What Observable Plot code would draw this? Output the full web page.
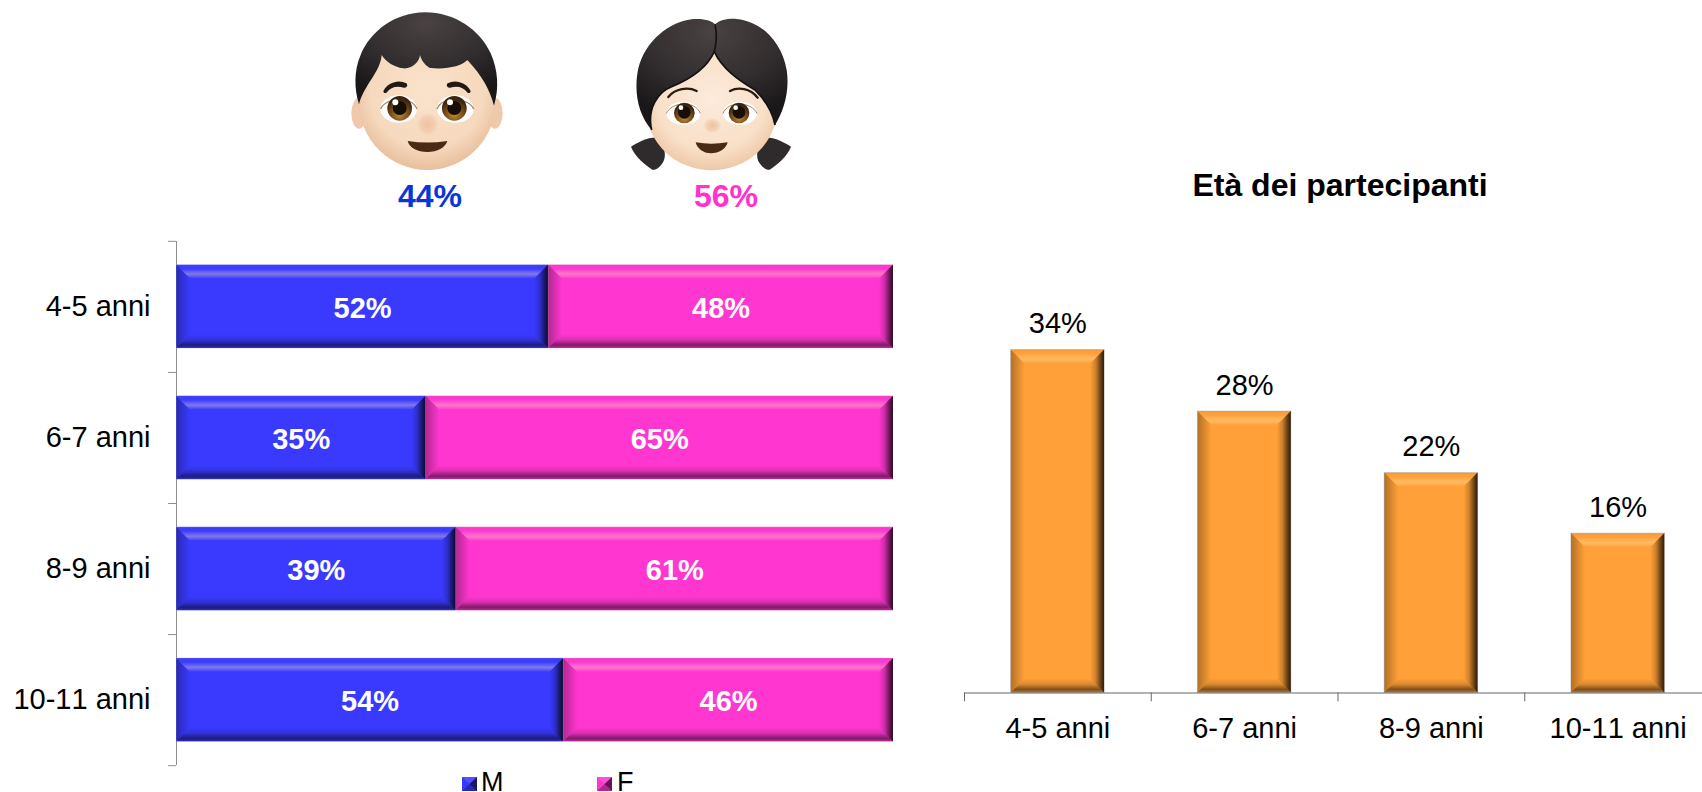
<!DOCTYPE html>
<html><head><meta charset="utf-8">
<script src="https://cdn.jsdelivr.net/npm/d3@7"></script>
<script src="https://cdn.jsdelivr.net/npm/@observablehq/plot@0.6"></script>
<style>
html,body{margin:0;padding:0;background:#fff;overflow:hidden}
#stage{position:relative;width:1702px;height:792px;overflow:hidden;font-family:"Liberation Sans",Arial,sans-serif;color:#000;font-kerning:none}
#stage>*{position:absolute}
.t{line-height:1;white-space:nowrap}
.face{filter:blur(.45px)}
</style></head><body>
<div id="stage">
<svg width="0" height="0" style="left:0;top:0">
  <defs>
    <linearGradient id="bvTop" x1="0" y1="0" x2="0" y2="1">
      <stop offset="0" stop-color="#000" stop-opacity=".08"/><stop offset=".3" stop-color="#fff" stop-opacity="0"/><stop offset=".68" stop-color="#ffe9a0" stop-opacity=".36"/><stop offset="1" stop-color="#fff" stop-opacity="0"/>
    </linearGradient>
    <linearGradient id="bvBottom" x1="0" y1="1" x2="0" y2="0">
      <stop offset="0" stop-color="#000" stop-opacity=".28"/><stop offset=".22" stop-color="#000" stop-opacity=".5"/><stop offset=".6" stop-color="#000" stop-opacity=".14"/><stop offset="1" stop-color="#000" stop-opacity="0"/>
    </linearGradient>
    <linearGradient id="bvRight" x1="1" y1="0" x2="0" y2="0">
      <stop offset="0" stop-color="#000" stop-opacity=".82"/><stop offset=".22" stop-color="#000" stop-opacity=".62"/><stop offset=".6" stop-color="#000" stop-opacity=".2"/><stop offset="1" stop-color="#000" stop-opacity="0"/>
    </linearGradient>
    <linearGradient id="bvLeft" x1="0" y1="0" x2="1" y2="0">
      <stop offset="0" stop-color="#000" stop-opacity=".3"/><stop offset="1" stop-color="#000" stop-opacity="0"/>
    </linearGradient>
    <radialGradient id="skinB" cx=".5" cy=".42" r=".58"><stop offset="0" stop-color="#fae2cb"/><stop offset=".72" stop-color="#f6d9be"/><stop offset="1" stop-color="#e8bf9c"/></radialGradient>
    <radialGradient id="skinG" cx=".5" cy=".42" r=".58"><stop offset="0" stop-color="#fceadb"/><stop offset=".72" stop-color="#f9e0c8"/><stop offset="1" stop-color="#eec8a8"/></radialGradient>
    <radialGradient id="hair" cx=".5" cy=".12" r=".8"><stop offset="0" stop-color="#4a4243"/><stop offset=".55" stop-color="#332e2f"/><stop offset="1" stop-color="#1a1718"/></radialGradient>
    <radialGradient id="iris" cx=".5" cy=".75" r=".62"><stop offset="0" stop-color="#c08a34"/><stop offset=".65" stop-color="#6e4516"/><stop offset="1" stop-color="#3a2410"/></radialGradient>
    <radialGradient id="nose"><stop offset="0" stop-color="#efbfa0" stop-opacity=".95"/><stop offset=".65" stop-color="#f0c5a6" stop-opacity=".6"/><stop offset="1" stop-color="#f3d0b2" stop-opacity="0"/></radialGradient>
  </defs>
</svg>

<svg class="face" width="170" height="170" viewBox="0 0 510 510" style="left:340px;top:5px">
  <ellipse cx="57" cy="325" rx="23" ry="46" fill="#efc9a9"/>
  <ellipse cx="465" cy="325" rx="23" ry="46" fill="#efc9a9"/>
  <ellipse cx="262" cy="290" rx="205" ry="205" fill="url(#skinB)"/>
  <path d="M57 298C42 250 42 195 62 150C90 80 165 22 255 22C345 22 420 75 452 145C474 195 478 250 462 302C450 255 425 210 382 165C365 185 310 195 268 188C252 178 243 163 240 150C238 172 215 192 190 190C160 186 138 170 125 150C122 200 72 240 57 298Z" fill="url(#hair)"/>
  <path id="browB" d="M133 258C145 235 175 226 198 237C202 243 196 247 190 245C170 240 150 245 138 261C134 263 132 261 133 258Z" fill="#241a14" stroke="#241a14" stroke-width="5" stroke-linejoin="round"/>
  <use href="#browB" transform="translate(522 0) scale(-1 1)"/>
  <ellipse cx="176" cy="312" rx="55" ry="41" fill="#fff"/>
  <path d="M122 312C135 278 215 270 231 312" fill="none" stroke="#9c8864" stroke-width="4"/>
  <circle cx="179" cy="310" r="37" fill="url(#iris)"/>
  <circle cx="179" cy="309" r="21" fill="#170e08"/>
  <circle cx="166" cy="292" r="9" fill="#fff"/>
  <ellipse cx="346" cy="312" rx="55" ry="41" fill="#fff"/>
  <path d="M291 312C307 270 387 278 401 312" fill="none" stroke="#9c8864" stroke-width="4"/>
  <circle cx="343" cy="310" r="37" fill="url(#iris)"/>
  <circle cx="343" cy="309" r="21" fill="#170e08"/>
  <circle cx="330" cy="292" r="9" fill="#fff"/>
  <ellipse cx="263" cy="358" rx="34" ry="36" fill="url(#nose)"/>
  <path d="M203 408Q262 417 322 408C316 428 292 441 262 441C232 441 208 428 203 408Z" fill="#4a2a12"/>
</svg>

<svg class="face" width="175" height="175" viewBox="0 0 525 525" style="left:625px;top:5px">
  <path id="tail" d="M18 425C40 412 70 395 100 398C118 420 125 450 115 470C105 487 92 496 82 494C60 480 30 455 18 425Z" fill="#2f2a2b"/>
  <use href="#tail" transform="translate(516 0) scale(-1 1)"/>
  <ellipse cx="260" cy="310" rx="196" ry="186" fill="url(#skinG)"/>
  <path d="M80 375C40 330 25 260 40 190C60 110 130 50 205 42C240 40 262 48 270 58C285 45 310 40 335 42C410 50 470 110 485 195C495 260 475 320 450 360C445 330 425 290 390 255C340 225 290 190 268 140C245 190 190 225 140 245C100 260 65 310 80 375Z" fill="url(#hair)"/>
  <path d="M80 375C65 310 100 260 140 245C190 225 245 190 268 140C290 190 340 225 390 255C425 290 445 330 450 360" fill="none" stroke="#131112" stroke-width="5"/>
  <path d="M270 58C276 85 274 115 268 140" fill="none" stroke="#151314" stroke-width="5"/>
  <path d="M130 276C150 250 190 245 215 258M315 258C340 245 375 250 398 278" fill="none" stroke="#2a1c14" stroke-width="7" stroke-linecap="round"/>
  <ellipse cx="175" cy="325" rx="51" ry="35" fill="#fff"/>
  <ellipse cx="345" cy="325" rx="51" ry="35" fill="#fff"/>
  <path d="M124 325C140 290 210 285 226 325M294 325C310 285 380 290 396 325" fill="none" stroke="#9c8864" stroke-width="3"/>
  <circle cx="178" cy="324" r="31" fill="url(#iris)"/><circle cx="342" cy="324" r="31" fill="url(#iris)"/>
  <circle cx="178" cy="322" r="19" fill="#170e08"/><circle cx="342" cy="322" r="19" fill="#170e08"/>
  <circle cx="168" cy="308" r="7" fill="#fff"/><circle cx="332" cy="308" r="7" fill="#fff"/>
  <ellipse cx="262" cy="362" rx="28" ry="24" fill="url(#nose)"/>
  <path d="M212 412Q258 420 308 412C303 432 282 445 258 445C234 445 216 430 212 412Z" fill="#4a2a12"/>
</svg>
</div>
<script>
const ages = ["4-5 anni", "6-7 anni", "8-9 anni", "10-11 anni"];
const maleShare = [51.9, 34.8, 39.0, 54.0];
const femaleShare = [48.1, 65.2, 61.0, 46.0];
const ageShare = [34, 27.9, 21.8, 15.8];
const sexes = ["M", "F"];
const sexTotals = [44, 56];
const chartTitle = "Età dei partecipanti";

const BLUE = "#3a3aff", PINK = "#ff37d0", ORANGE = "#ffa038";
const FONT = '"Liberation Sans", Arial, sans-serif';
const stage = document.getElementById("stage");
const NS = "http://www.w3.org/2000/svg";

function bevel(index, scales, values, dims, ctx, next) {
  const g = next(index, scales, values, dims, ctx);
  const B = 14;
  g.querySelectorAll("rect").forEach(r => {
    const x = +r.getAttribute("x"), y = +r.getAttribute("y"),
          w = +r.getAttribute("width"), h = +r.getAttribute("height");
    const X = x + w, Y = y + h;
    const sides = [
      ["bvLeft",   [[x,y],[x+B,y+B],[x+B,Y-B],[x,Y]]],
      ["bvRight",  [[X,y],[X-B,y+B],[X-B,Y-B],[X,Y]]],
      ["bvTop",    [[x,y],[X,y],[X-B,y+B],[x+B,y+B]]],
      ["bvBottom", [[x,Y],[X,Y],[X-B,Y-B],[x+B,Y-B]]]
    ];
    for (const [id, pts] of sides) {
      const p = document.createElementNS(NS, "polygon");
      p.setAttribute("points", pts.map(q => q.join(",")).join(" "));
      p.setAttribute("fill", `url(#${id})`);
      p.setAttribute("stroke", "none");
      g.appendChild(p);
    }
  });
  return g;
}

/* left chart */
const sexRows = ages.flatMap((age, i) => [
  {age, sex: sexes[0], value: maleShare[i]},
  {age, sex: sexes[1], value: femaleShare[i]}
]);
const leftStep = 131.1;
const left = Plot.plot({
  width: 900, height: 792,
  marginLeft: 176, marginRight: 7, marginTop: 241, marginBottom: 27,
  style: {fontFamily: FONT, background: "transparent", color: "#000", fontKerning: "none"},
  x: {domain: [0, 100], axis: null},
  y: {domain: ages, paddingInner: 0.363, paddingOuter: 0.18, round: false, label: null},
  color: {domain: sexes, range: [BLUE, PINK]},
  marks: [
    Plot.axisY({tickSize: 0, tickPadding: 26, fontSize: 29, label: null}),
    Plot.ruleX([0], {stroke: "#8c8c8c"}),
    Plot.ruleY(ages, {y: d => d, x1: -1.1, x2: 0, dy: -leftStep / 2, stroke: "#8c8c8c"}),
    Plot.ruleY(ages.slice(-1), {y: d => d, x1: -1.1, x2: 0, dy: leftStep / 2, stroke: "#8c8c8c"}),
    Plot.barX(sexRows, {x: "value", y: "age", fill: "sex", stroke: "#fff", strokeOpacity: 0.3, render: bevel}),
    Plot.text(sexRows, Plot.stackX({x: "value", y: "age", text: d => Math.round(d.value) + "%", dy: 2, fill: "#fff", fontSize: 29, fontWeight: "bold"}))
  ]
});
left.style.left = "0px"; left.style.top = "0px";
stage.appendChild(left);

/* right chart */
const ageRows = ages.map((age, i) => ({age, value: ageShare[i]}));
const rightStep = 186.75;
const right = Plot.plot({
  width: 802, height: 792,
  marginLeft: 64, marginRight: 0, marginTop: 349.5, marginBottom: 99.5,
  style: {fontFamily: FONT, background: "transparent", color: "#000", fontKerning: "none"},
  x: {domain: ages, range: [64, 811], paddingInner: 0.5, paddingOuter: 0.25, round: false, label: null},
  y: {domain: [0, 34], axis: null},
  marks: [
    Plot.axisX({tickSize: 0, tickPadding: 24, fontSize: 29, label: null}),
    Plot.barY(ageRows, {x: "age", y: "value", fill: ORANGE, stroke: "#bbb", strokeOpacity: 0.6, render: bevel}),
    Plot.ruleY([0], {stroke: "#666"}),
    Plot.ruleX(ages, {x: d => d, y1: -0.87, y2: 0, dx: -rightStep / 2, stroke: "#666"}),
    Plot.text(ageRows, {x: "age", y: "value", text: d => Math.round(d.value) + "%", dy: -26, fontSize: 29, fill: "#000"})
  ]
});
right.style.left = "900px"; right.style.top = "0px";
stage.appendChild(right);

/* text outside the plots */
function label(text, css) {
  const d = document.createElement("div");
  d.className = "t"; d.textContent = text; Object.assign(d.style, css);
  stage.appendChild(d);
}
label(sexTotals[0] + "%", {left: "430px", top: "180px", transform: "translateX(-50%)", fontSize: "32px", fontWeight: "bold", color: "#0a35d8"});
label(sexTotals[1] + "%", {left: "726px", top: "180px", transform: "translateX(-50%)", fontSize: "32px", fontWeight: "bold", color: "#ff33cc"});
label(chartTitle, {left: "1340px", top: "169px", transform: "translateX(-50%)", fontSize: "32px", fontWeight: "bold"});

/* legend */
function swatch(color, x) {
  const s = document.createElementNS(NS, "svg");
  s.setAttribute("width", 15); s.setAttribute("height", 14);
  s.setAttribute("viewBox", "0 0 15 14");
  s.style.left = x + "px"; s.style.top = "777px";
  s.innerHTML = `<rect width="15" height="14" fill="${color}"/>
    <polygon points="0,0 15,0 7.5,7" fill="#fff" fill-opacity=".12"/>
    <polygon points="15,0 15,14 7.5,7" fill="#000" fill-opacity=".6"/>
    <polygon points="0,14 15,14 7.5,7" fill="#000" fill-opacity=".3"/>`;
  stage.appendChild(s);
}
swatch(BLUE, 462); swatch(PINK, 597);
label(sexes[0], {left: "481px", top: "771.5px", fontSize: "27px", lineHeight: "0.75"});
label(sexes[1], {left: "617px", top: "771.5px", fontSize: "27px", lineHeight: "0.75"});
</script>
</body></html>
